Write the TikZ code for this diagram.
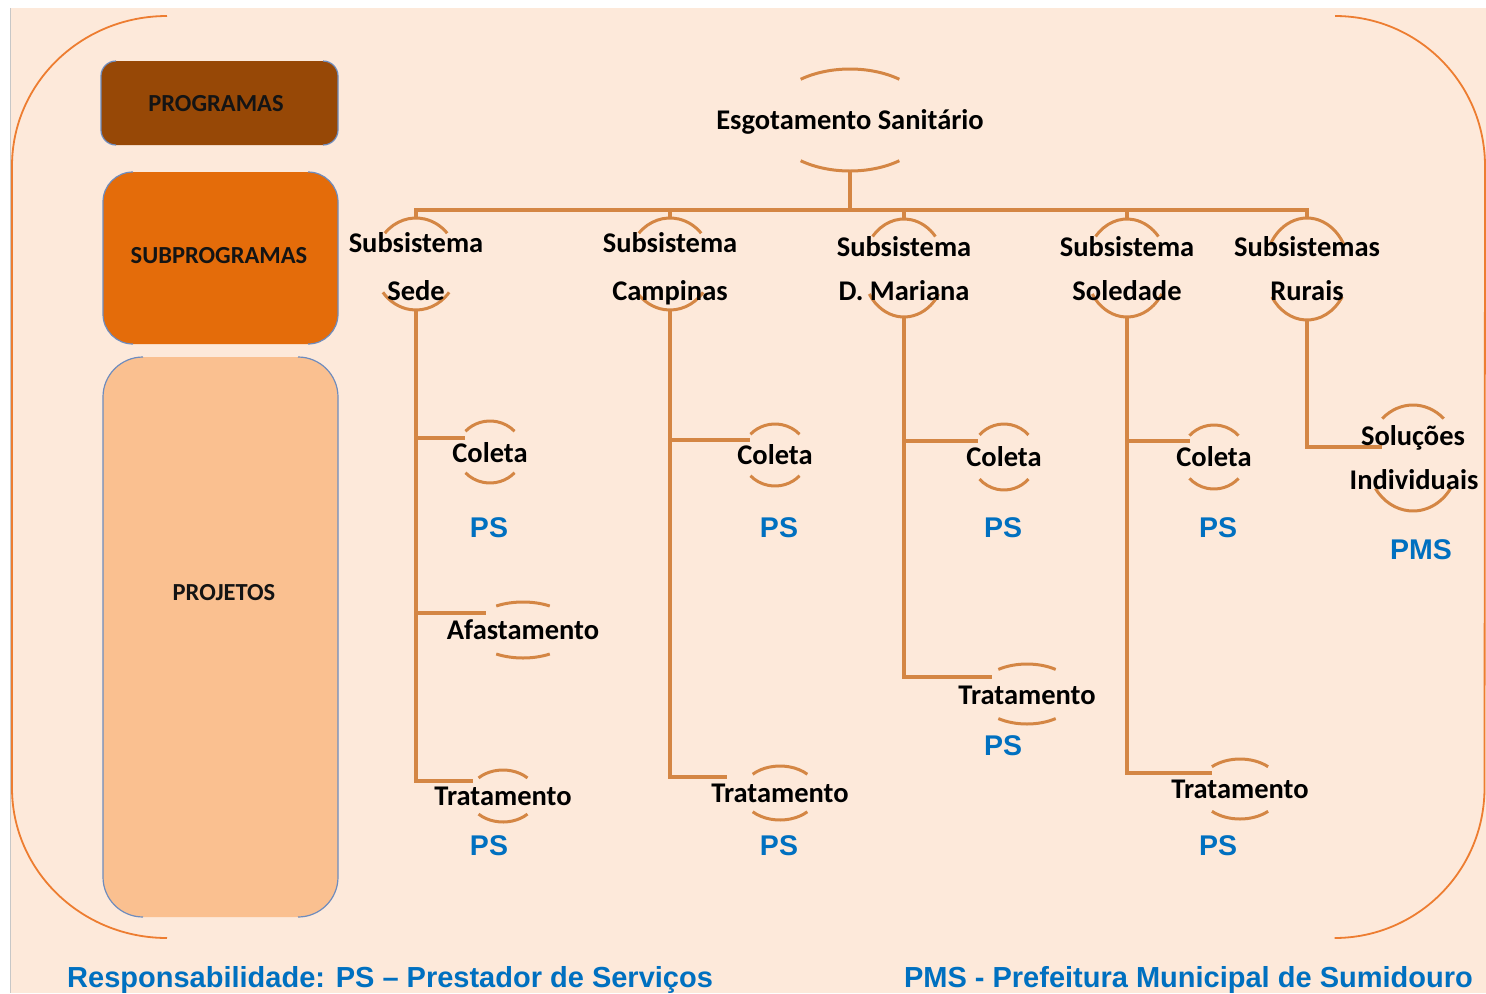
\documentclass[tikz,border=0pt]{standalone}
\usepackage{fontspec}
\setmainfont{Carlito}
\newfontfamily\footsans{Liberation Sans}
\usetikzlibrary{calc}

\definecolor{pagepeach}{RGB}{253,233,218}
\definecolor{framering}{RGB}{237,125,49}
\definecolor{branch}{RGB}{212,134,68}
\definecolor{progfill}{RGB}{151,72,6}
\definecolor{subfill}{RGB}{228,108,10}
\definecolor{projfill}{RGB}{250,192,144}
\definecolor{boxedge}{RGB}{110,140,190}
\definecolor{respblue}{RGB}{0,112,192}

% arcs above and below a label: #1 centre, #2 x radius, #3 y radius,
% #4 half-angle of the upper arc, #5 half-angle of the lower arc
\newcommand\treeovals[5]{%
  \draw[nodearc] ($(#1)+(-90-#4:#2 and #3)$)
    arc[start angle=-90-#4, end angle=-90+#4, x radius=#2, y radius=#3];
  \draw[nodearc] ($(#1)+(90-#5:#2 and #3)$)
    arc[start angle=90-#5, end angle=90+#5, x radius=#2, y radius=#3];
  \coordinate (#1-top) at ($(#1)+(0,-#3)$);
  \coordinate (#1-bot) at ($(#1)+(0,#3)$);
}

% rounded left and right sides of a legend box: #1 box node, #2 corner radius
\newcommand\legendsides[2]{%
  \draw[boxedgeline] ($(#1.north west)+(#2,0)$) arc[start angle=-90, end angle=-180, radius=#2]
    -- ($(#1.south west)+(0,-#2)$) arc[start angle=180, end angle=90, radius=#2];
  \draw[boxedgeline] ($(#1.north east)+(-#2,0)$) arc[start angle=-90, end angle=0, radius=#2]
    -- ($(#1.south east)+(0,-#2)$) arc[start angle=0, end angle=90, radius=#2];
}

\begin{document}
\begin{tikzpicture}[x=1pt, y=-1pt,
  nodetext/.style={font=\fontsize{28.5}{34}\selectfont\bfseries, text=black,
    inner sep=0pt, text height=18.4pt, text depth=0pt},
  legendtext/.style={font=\fontsize{24.5}{30}\selectfont\bfseries, text=black!92,
    inner sep=0pt, text height=15.8pt, text depth=0pt},
  resp/.style={font=\footsans\fontsize{28.5}{34}\selectfont\bfseries, text=respblue,
    inner sep=0pt, text height=20.4pt, text depth=0pt},
  footer/.style={font=\footsans\fontsize{29}{34}\selectfont\bfseries, text=respblue,
    inner sep=0pt, text height=20.8pt, text depth=0pt},
  legendbox/.style={rectangle, draw=none, inner sep=0pt, outer sep=0pt},
  branchline/.style={draw=branch, line width=3.2pt},
  nodearc/.style={draw=branch, line width=3pt},
  ringline/.style={draw=framering, line width=1.8pt},
  boxedgeline/.style={draw=boxedge, line width=1.2pt},
]
% page
\fill[white] (0,0) rectangle (1486,993);
\fill[pagepeach] (10,8) rectangle (1486,993);
\draw[black!22, line width=1pt] (10.5,8) -- (10.5,993);
\useasboundingbox (0,0) rectangle (1486,993);

% outer frame, left and right halves
\draw[ringline] (167,16) arc[start angle=-90, end angle=-180, x radius=155, y radius=150]
  -- (12,788) arc[start angle=180, end angle=90, x radius=155, y radius=150];
\draw[ringline] (1335,16) arc[start angle=-90, end angle=0, radius=150]
  -- (1484.5,788) arc[start angle=0, end angle=90, radius=150];

% legend column
\node[legendbox, fill=progfill, rounded corners=15pt, minimum width=237pt, minimum height=84pt] (prog-box) at (219.5,103) {};
\node[legendbox, fill=subfill, rounded corners=30pt, minimum width=235pt, minimum height=172pt] (sub-box) at (220.5,258) {};
\node[legendbox, fill=projfill, rounded corners=40pt, minimum width=235pt, minimum height=560pt] (proj-box) at (220.5,637) {};
\legendsides{prog-box}{15}
\legendsides{sub-box}{30}
\legendsides{proj-box}{40}
\node[legendtext] (prog-label) at (216,104) {PROGRAMAS};
\node[legendtext] (sub-label) at (219,256) {SUBPROGRAMAS};
\node[legendtext] (proj-label) at (224,593) {PROJETOS};

% centres of the tree nodes
\coordinate (root) at (850,120);
\coordinate (sede) at (416,264);
\coordinate (campinas) at (670,264);
\coordinate (mariana) at (904,268);
\coordinate (soledade) at (1127,268);
\coordinate (rurais) at (1307,269);
\coordinate (coleta-sede) at (490,452);
\coordinate (afast-sede) at (523,630);
\coordinate (trat-sede) at (503,796);
\coordinate (coleta-camp) at (775,455);
\coordinate (trat-camp) at (780,793);
\coordinate (coleta-mar) at (1004,457);
\coordinate (trat-mar) at (1027,694);
\coordinate (coleta-sol) at (1214,457);
\coordinate (trat-sol) at (1240,789);
\coordinate (solucoes) at (1413,458);

% arcs of the tree nodes
\treeovals{root}{82}{51}{37}{37}
\treeovals{sede}{42}{46}{48}{52}
\treeovals{campinas}{42}{46}{48}{52}
\treeovals{mariana}{41}{49}{50}{58}
\treeovals{soledade}{41}{49}{50}{58}
\treeovals{rurais}{42}{51}{62}{57}
\treeovals{coleta-sede}{33}{31}{48}{48}
\treeovals{afast-sede}{52}{28}{31}{31}
\treeovals{trat-sede}{34}{26}{46}{46}
\treeovals{coleta-camp}{33}{31}{48}{48}
\treeovals{trat-camp}{38}{27}{46}{46}
\treeovals{coleta-mar}{33}{33}{48}{48}
\treeovals{trat-mar}{50}{30}{35}{35}
\treeovals{coleta-sol}{33}{32}{48}{48}
\treeovals{trat-sol}{42}{30}{42}{42}
\treeovals{solucoes}{46}{53}{42}{55}

% where the branches meet the leaves
\coordinate (trunk) at (850,210);
\coordinate (coleta-sede-in) at ($(coleta-sede)+(-25,-14)$);
\coordinate (afast-sede-in) at ($(afast-sede)+(-37,-17)$);
\coordinate (trat-sede-in) at ($(trat-sede)+(-30,-15)$);
\coordinate (coleta-camp-in) at ($(coleta-camp)+(-25,-15)$);
\coordinate (trat-camp-in) at ($(trat-camp)+(-53,-16)$);
\coordinate (coleta-mar-in) at ($(coleta-mar)+(-26,-16)$);
\coordinate (trat-mar-in) at ($(trat-mar)+(-35,-17)$);
\coordinate (coleta-sol-in) at ($(coleta-sol)+(-24,-16)$);
\coordinate (trat-sol-in) at ($(trat-sol)+(-28,-16)$);
\coordinate (solucoes-in) at ($(solucoes)+(-31,-11)$);

% branches
\draw[branchline] (root-bot) -- (trunk);
\draw[branchline] (sede-top) |- (rurais-top |- trunk) -- (rurais-top);
\draw[branchline] (campinas-top) -- (campinas-top |- trunk);
\draw[branchline] (mariana-top) -- (mariana-top |- trunk);
\draw[branchline] (soledade-top) -- (soledade-top |- trunk);

\draw[branchline] (sede-bot) |- (trat-sede-in);
\draw[branchline] (sede-bot |- coleta-sede-in) -- (coleta-sede-in);
\draw[branchline] (sede-bot |- afast-sede-in) -- (afast-sede-in);
\draw[branchline] (campinas-bot) |- (trat-camp-in);
\draw[branchline] (campinas-bot |- coleta-camp-in) -- (coleta-camp-in);
\draw[branchline] (mariana-bot) |- (trat-mar-in);
\draw[branchline] (mariana-bot |- coleta-mar-in) -- (coleta-mar-in);
\draw[branchline] (soledade-bot) |- (trat-sol-in);
\draw[branchline] (soledade-bot |- coleta-sol-in) -- (coleta-sol-in);
\draw[branchline] (rurais-bot) |- (solucoes-in);

% labels
\node[nodetext] (root-label) at (root) {Esgotamento Sanitário};
\node[nodetext] (sede-l1) at ($(sede)+(0,-21)$) {Subsistema};
\node[nodetext] (sede-l2) at ($(sede)+(0,27)$) {Sede};
\node[nodetext] (campinas-l1) at ($(campinas)+(0,-21)$) {Subsistema};
\node[nodetext] (campinas-l2) at ($(campinas)+(0,27)$) {Campinas};
\node[nodetext] (mariana-l1) at ($(mariana)+(0,-21)$) {Subsistema};
\node[nodetext] (mariana-l2) at ($(mariana)+(0,23)$) {D. Mariana};
\node[nodetext] (soledade-l1) at ($(soledade)+(0,-21)$) {Subsistema};
\node[nodetext] (soledade-l2) at ($(soledade)+(0,23)$) {Soledade};
\node[nodetext] (rurais-l1) at ($(rurais)+(0,-22)$) {Subsistemas};
\node[nodetext] (rurais-l2) at ($(rurais)+(0,22)$) {Rurais};

\node[nodetext] (coleta-sede-label) at ($(coleta-sede)+(0,1)$) {Coleta};
\node[nodetext] (afast-sede-label) at (afast-sede) {Afastamento};
\node[nodetext] (trat-sede-label) at (trat-sede) {Tratamento};
\node[nodetext] (coleta-camp-label) at (coleta-camp) {Coleta};
\node[nodetext] (trat-camp-label) at (trat-camp) {Tratamento};
\node[nodetext] (coleta-mar-label) at (coleta-mar) {Coleta};
\node[nodetext] (trat-mar-label) at ($(trat-mar)+(0,1)$) {Tratamento};
\node[nodetext] (coleta-sol-label) at (coleta-sol) {Coleta};
\node[nodetext] (trat-sol-label) at (trat-sol) {Tratamento};
\node[nodetext] (solucoes-l1) at ($(solucoes)+(0,-22)$) {Soluções};
\node[nodetext] (solucoes-l2) at ($(solucoes)+(1,22)$) {Individuais};

% responsibility tags
\node[resp] (ps-coleta-sede) at (489,527) {PS};
\node[resp] (ps-trat-sede) at (489,845) {PS};
\node[resp] (ps-coleta-camp) at (779,527) {PS};
\node[resp] (ps-trat-camp) at (779,845) {PS};
\node[resp] (ps-coleta-mar) at (1003,527) {PS};
\node[resp] (ps-trat-mar) at (1003,745) {PS};
\node[resp] (ps-coleta-sol) at (1218,527) {PS};
\node[resp] (ps-trat-sol) at (1218,845) {PS};
\node[resp] (pms-solucoes) at (1421,549) {PMS};

% footnotes
\node[footer, anchor=west] (resp-note) at (67,977) {Responsabilidade: PS – Prestador de Serviços};
\node[footer, anchor=east] (pms-note) at (1473,977) {PMS - Prefeitura Municipal de Sumidouro};
\end{tikzpicture}
\end{document}
